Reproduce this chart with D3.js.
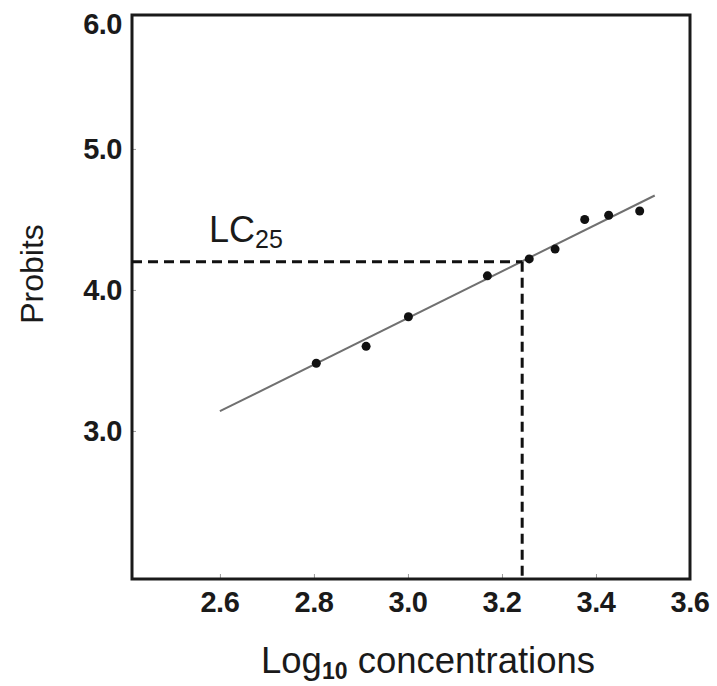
<!DOCTYPE html>
<html>
<head>
<meta charset="utf-8">
<script src="https://cdn.jsdelivr.net/npm/d3@7"></script>
<style>
  html, body { margin: 0; padding: 0; background: #fff; }
  svg { display: block; }
  text { font-family: "Liberation Sans", Arial, sans-serif; fill: #1a1a1a; }
</style>
</head>
<body>
<svg id="chart" width="717" height="686"></svg>
<script>
// ---- data ----
const logConc = [2.805, 2.911, 3.001, 3.169, 3.258, 3.313, 3.376, 3.427, 3.493];
const probits = [3.48, 3.60, 3.81, 4.10, 4.22, 4.29, 4.50, 4.53, 4.56];
const fitX = [2.60, 3.525];
const fitY = [3.14, 4.67];
const lc25X = 3.243;
const lc25Y = 4.20;
const xTicks = [2.6, 2.8, 3.0, 3.2, 3.4, 3.6];
const yTicks = [3.0, 4.0, 5.0, 6.0];
const xDomain = [2.413, 3.6];
const yDomain = [1.95, 5.95];

// ---- layout ----
const mLeft = 132, mRight = 690, mTop = 15, mBottom = 579;
const svg = d3.select("#chart");

const x = d3.scaleLinear().domain(xDomain).range([mLeft, mRight]);
const y = d3.scaleLinear().domain(yDomain).range([mBottom, mTop]);

// x axis ticks (inward) and labels
const xAxis = d3.axisTop(x).tickValues(xTicks).tickSize(5).tickFormat("");
const gx = svg.append("g").attr("transform", `translate(0,${mBottom})`).call(xAxis);
gx.select(".domain").remove();
gx.selectAll("line").attr("stroke", "#999").attr("stroke-width", 1);

svg.append("g").selectAll("text").data(xTicks).join("text")
  .attr("x", d => x(d))
  .attr("y", 612)
  .attr("text-anchor", "middle")
  .attr("font-size", 29)
  .attr("font-weight", "bold")
  .attr("letter-spacing", -0.5)
  .text(d => d3.format(".1f")(d));

// y axis ticks (inward) and labels
const yAxis = d3.axisRight(y).tickValues(yTicks.filter(v => y(v) > mTop)).tickSize(4).tickFormat("");
const gy = svg.append("g").attr("transform", `translate(${mLeft},0)`).call(yAxis);
gy.select(".domain").remove();
gy.selectAll("line").attr("stroke", "#999").attr("stroke-width", 1);

svg.append("g").selectAll("text").data(yTicks).join("text")
  .attr("x", mLeft - 10)
  .attr("y", d => Math.max(y(d), mTop + 9))
  .attr("dy", "0.36em")
  .attr("text-anchor", "end")
  .attr("font-size", 29)
  .attr("font-weight", "bold")
  .attr("letter-spacing", -0.5)
  .text(d => d3.format(".1f")(d));

// frame
svg.append("rect")
  .attr("x", mLeft).attr("y", mTop)
  .attr("width", mRight - mLeft).attr("height", mBottom - mTop)
  .attr("fill", "none").attr("stroke", "#1a1a1a").attr("stroke-width", 3);

// fitted line
const fit = fitX.map((v, i) => [v, fitY[i]]);
svg.append("path")
  .datum(fit)
  .attr("d", d3.line().x(d => x(d[0])).y(d => y(d[1])))
  .attr("stroke", "#707070").attr("stroke-width", 2).attr("fill", "none");

// LC25 dashed guides
svg.append("line")
  .attr("x1", x(xDomain[0])).attr("x2", x(lc25X))
  .attr("y1", y(lc25Y)).attr("y2", y(lc25Y))
  .attr("stroke", "#111").attr("stroke-width", 3).attr("stroke-dasharray", "10,6");
svg.append("line")
  .attr("x1", x(lc25X)).attr("x2", x(lc25X))
  .attr("y1", y(lc25Y)).attr("y2", y(yDomain[0]))
  .attr("stroke", "#111").attr("stroke-width", 3).attr("stroke-dasharray", "10,6");

// points
svg.append("g").selectAll("circle").data(logConc).join("circle")
  .attr("cx", d => x(d))
  .attr("cy", (d, i) => y(probits[i]))
  .attr("r", 4.5)
  .attr("fill", "#111");

// LC25 label
const lc = svg.append("text").attr("x", 209).attr("y", 242).attr("font-size", 36);
lc.append("tspan").text("LC");
lc.append("tspan").attr("font-size", 25).attr("dy", 6).text("25");

// axis titles
const xt = svg.append("text").attr("x", 261).attr("y", 673).attr("font-size", 36.5);
xt.append("tspan").text("Log");
xt.append("tspan").attr("font-size", 23).attr("font-weight", "bold").attr("dy", 6).text("10");
xt.append("tspan").attr("dy", -6).text(" concentrations");

svg.append("text")
  .attr("transform", "translate(43,274) rotate(-90)")
  .attr("text-anchor", "middle")
  .attr("font-size", 32)
  .text("Probits");
</script>
</body>
</html>
